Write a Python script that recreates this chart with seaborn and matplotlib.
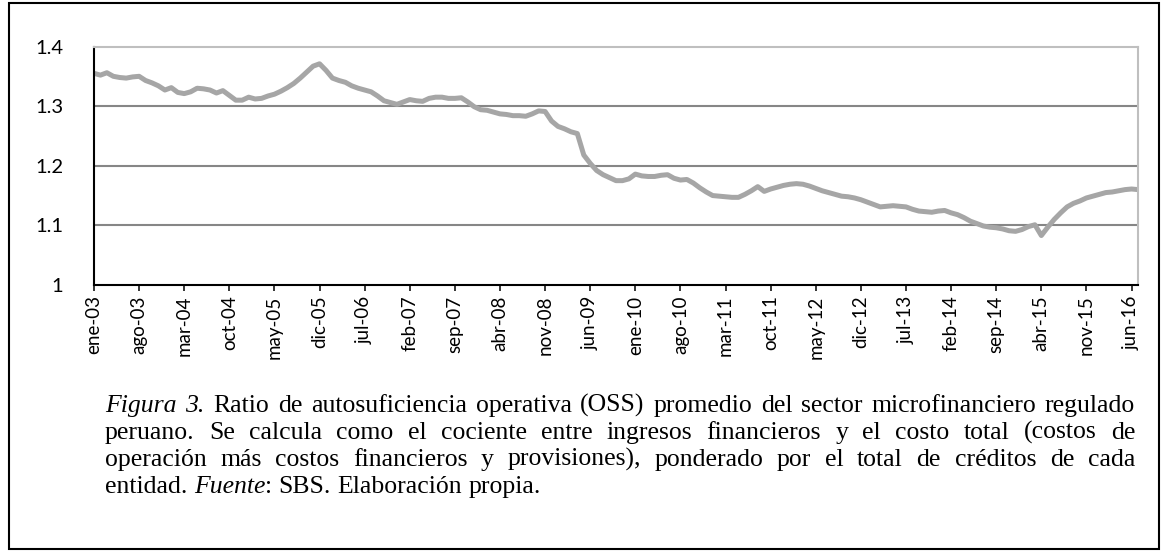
import matplotlib
import matplotlib.pyplot as plt
import numpy as np
import pandas as pd
import seaborn as sns
from matplotlib.patches import Rectangle

matplotlib.use("Agg")

# OSS mensual, ene-03 a jul-16
oss = [
    1.355, 1.352, 1.356, 1.350, 1.348, 1.347, 1.349, 1.350, 1.343, 1.339,
    1.334, 1.327, 1.331, 1.323, 1.321, 1.324, 1.330, 1.329, 1.327, 1.322,
    1.326, 1.318, 1.310, 1.310, 1.315, 1.312, 1.313, 1.317, 1.320, 1.325,
    1.331, 1.338, 1.347, 1.357, 1.367, 1.371, 1.360, 1.347, 1.343, 1.340,
    1.334, 1.330, 1.327, 1.324, 1.317, 1.309, 1.306, 1.303, 1.307, 1.311,
    1.309, 1.308, 1.313, 1.315, 1.315, 1.313, 1.313, 1.314, 1.307, 1.299,
    1.294, 1.293, 1.290, 1.287, 1.286, 1.284, 1.284, 1.283, 1.287, 1.292,
    1.291, 1.275, 1.266, 1.262, 1.257, 1.254, 1.218, 1.204, 1.192, 1.185,
    1.180, 1.175, 1.175, 1.178, 1.186, 1.183, 1.182, 1.182, 1.184, 1.185,
    1.179, 1.176, 1.177, 1.171, 1.163, 1.156, 1.150, 1.149, 1.148, 1.147,
    1.147, 1.152, 1.158, 1.165, 1.157, 1.161, 1.164, 1.167, 1.169, 1.170,
    1.169, 1.166, 1.162, 1.158, 1.155, 1.152, 1.149, 1.148, 1.146, 1.143,
    1.139, 1.135, 1.131, 1.132, 1.133, 1.132, 1.131, 1.127, 1.124, 1.123,
    1.122, 1.124, 1.125, 1.121, 1.118, 1.113, 1.107, 1.103, 1.099, 1.097,
    1.096, 1.094, 1.091, 1.090, 1.093, 1.098, 1.101, 1.083, 1.097, 1.110,
    1.121, 1.131, 1.137, 1.141, 1.146, 1.149, 1.152, 1.155, 1.156, 1.158,
    1.160, 1.161, 1.160,
]

x_tick_labels = [
    "ene-03", "ago-03", "mar-04", "oct-04", "may-05", "dic-05", "jul-06",
    "feb-07", "sep-07", "abr-08", "nov-08", "jun-09", "ene-10", "ago-10",
    "mar-11", "oct-11", "may-12", "dic-12", "jul-13", "feb-14", "sep-14",
    "abr-15", "nov-15", "jun-16",
]
y_ticks = [1.0, 1.1, 1.2, 1.3, 1.4]
y_tick_labels = ["1", "1.1", "1.2", "1.3", "1.4"]

caption_lines = [
    "*Figura 3.* Ratio de autosuficiencia operativa (OSS) promedio del sector microfinanciero regulado",
    "peruano. Se calcula como el cociente entre ingresos financieros y el costo total (costos de",
    "operación más costos financieros y provisiones), ponderado por el total de créditos de cada",
    "entidad. *Fuente*: SBS. Elaboración propia.",
]

W, H = 1167, 555

sns.set_theme(style="white")
plt.rcParams["font.family"] = ["Lato", "DejaVu Sans"]

fig = plt.figure(figsize=(W / 100, H / 100), dpi=100)
fig.patch.set_facecolor("white")

ax = fig.add_axes([94 / W, 1 - 285 / H, (1138 - 94) / W, (285 - 46.5) / H])

df = pd.DataFrame({"mes": np.arange(len(oss)), "oss": oss})
sns.lineplot(data=df, x="mes", y="oss", color="#a6a6a6", linewidth=3.6, ax=ax)

ax.set_xlim(0, len(oss) - 1)
ax.set_ylim(1.0, 1.4)
ax.set_xticks(np.arange(len(x_tick_labels)) * 7)
ax.set_xticklabels(x_tick_labels, rotation=90, fontsize=13.5, color="black")
ax.set_yticks(y_ticks)
ax.set_yticklabels(y_tick_labels, fontsize=14.5, color="black")
ax.set_xlabel("")
ax.set_ylabel("")

for v in y_ticks[1:4]:
    ax.axhline(v, color="#868686", linewidth=1.5, zorder=0)

ax.spines["left"].set_color("black")
ax.spines["left"].set_linewidth(1.5)
ax.spines["bottom"].set_color("black")
ax.spines["bottom"].set_linewidth(1.5)
ax.spines["top"].set_color("#bfbfbf")
ax.spines["top"].set_linewidth(1.5)
ax.spines["right"].set_color("#bfbfbf")
ax.spines["right"].set_linewidth(1.5)

ax.tick_params(axis="x", direction="out", length=4.5, width=1.1, color="black",
               pad=3, bottom=True)
ax.tick_params(axis="y", length=0, pad=22)

# marco exterior
fig.patches.append(Rectangle((9 / W, 1 - 549 / H), (1159 - 9) / W, (549 - 3) / H,
                             transform=fig.transFigure, fill=False,
                             edgecolor="black", linewidth=1.5))


def parse_words(line):
    words, current, seg, italic = [], [], "", False
    for ch in line + " ":
        if ch == "*":
            if seg:
                current.append((seg, italic))
                seg = ""
            italic = not italic
        elif ch == " ":
            if seg:
                current.append((seg, italic))
                seg = ""
            if current:
                words.append(current)
                current = []
        else:
            seg += ch
    return words


serif = ["Liberation Serif", "DejaVu Serif"]
cap_size = 18.5
x_left, x_right = 105, 1135
baselines = [412, 439, 466, 493]

fig.canvas.draw()
renderer = fig.canvas.get_renderer()
space_px = cap_size * 100 / 72 * 0.25

for li, line in enumerate(caption_lines):
    yb = 1 - baselines[li] / H
    words = parse_words(line)
    word_items = []
    for w in words:
        items = []
        for txt, ital in w:
            t = fig.text(0, yb, txt, family=serif, fontsize=cap_size,
                         fontstyle="italic" if ital else "normal",
                         va="baseline", ha="left", color="black")
            items.append((t, t.get_window_extent(renderer).width))
        word_items.append(items)
    widths = [sum(wd for _, wd in items) for items in word_items]
    last = li == len(caption_lines) - 1
    if last or len(words) < 2:
        gap = space_px
    else:
        gap = (x_right - x_left - sum(widths)) / (len(words) - 1)
    x = x_left
    for items, wsum in zip(word_items, widths):
        xs = x
        for t, wd in items:
            t.set_x(xs / W)
            xs += wd
        x += wsum + gap

fig.savefig("out.png", dpi=100, facecolor="white")
